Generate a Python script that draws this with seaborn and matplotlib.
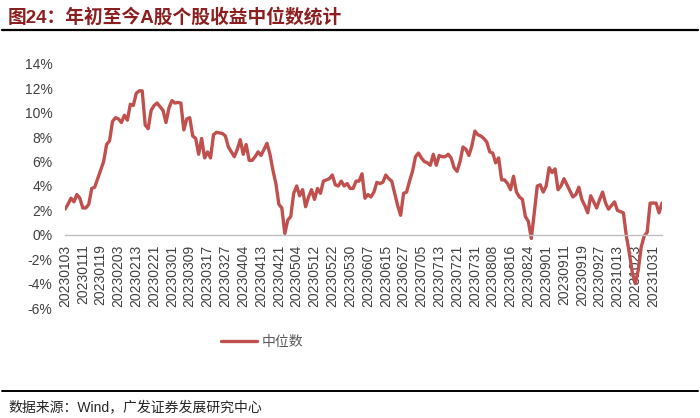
import pandas as pd
import numpy as np
import matplotlib
matplotlib.use('Agg')
import matplotlib.pyplot as plt
import seaborn as sns

# A-share trading calendar 2023 (exchange holidays on weekdays)
START = '2023-01-03'
END = '2023-11-03'
HOLIDAYS = ['2023-01-02', '2023-01-23', '2023-01-24', '2023-01-25', '2023-01-26',
            '2023-01-27', '2023-04-05', '2023-05-01', '2023-05-02', '2023-05-03',
            '2023-06-22', '2023-06-23', '2023-09-29', '2023-10-02', '2023-10-03',
            '2023-10-04', '2023-10-05', '2023-10-06']

# median YTD stock return, %
median_ret = [
    2.1, 2.5, 3.0, 2.7, 3.3, 3.0, 2.2, 2.2, 2.5, 3.8,
    3.9, 4.6, 5.3, 6.0, 7.4, 7.7, 9.3, 9.6, 9.5, 9.2,
    9.8, 9.4, 10.7, 10.6, 11.6, 11.8, 11.8, 9.0, 8.7, 10.2,
    10.6, 10.8, 10.5, 10.2, 9.2, 10.4, 11.0, 10.8, 10.85, 10.8,
    8.6, 9.5, 9.6, 8.1, 7.9, 6.6, 7.9, 6.3, 6.8, 6.3,
    8.2, 8.4, 8.35, 8.3, 8.1, 7.2, 6.8, 6.4, 7.0, 7.8,
    6.6, 7.4, 6.1, 6.1, 6.4, 6.8, 6.5, 7.0, 7.5, 6.6,
    5.3, 4.2, 2.5, 2.2, 0.1, 1.2, 1.5, 3.4, 4.0, 3.2,
    3.7, 2.3, 3.1, 3.7, 2.9, 3.8, 3.4, 4.4, 4.5, 4.6,
    4.9, 4.1, 4.0, 4.4, 4.0, 4.2, 3.8, 3.8, 4.4, 4.4,
    5.0, 3.0, 3.3, 3.1, 3.5, 4.3, 4.2, 4.3, 4.9, 4.6,
    4.4, 3.4, 2.4, 1.6, 3.4, 3.5, 4.4, 5.2, 6.4, 6.7,
    6.3, 6.0, 5.9, 5.7, 6.6, 5.7, 6.5, 6.4, 6.4, 6.6,
    6.3, 5.5, 5.2, 6.0, 7.2, 7.0, 6.5, 7.3, 8.5, 8.2,
    8.1, 7.9, 7.6, 6.8, 6.7, 5.9, 6.3, 4.5, 4.5, 4.2,
    3.7, 4.8, 3.5, 3.1, 2.9, 1.5, 1.1, -0.3, 1.8, 4.0,
    4.1, 3.5, 4.0, 5.5, 5.1, 5.4, 3.7, 4.0, 4.6, 4.1,
    3.6, 3.1, 3.3, 3.9, 2.9, 2.4, 1.8, 3.2, 2.7, 2.2,
    2.9, 3.5, 2.6, 2.1, 2.4, 2.7, 2.0, 1.9, 1.8, -0.1,
    -1.5, -3.1, -4.0, -2.9, -1.0, -0.1, 0.2, 2.6, 2.6, 2.6,
    1.8, 2.6,
]

y_ticks = [-6, -4, -2, 0, 2, 4, 6, 8, 10, 12, 14]

title = '图24：年初至今A股个股收益中位数统计'
source = '数据来源：Wind，广发证券发展研究中心'
series_name = '中位数'

dates = pd.bdate_range(START, END, freq='C', holidays=HOLIDAYS)
df = pd.DataFrame({'pos': np.arange(len(median_ret)),
                   'date': dates[:len(median_ret)].strftime('%Y%m%d'),
                   'value': median_ret})

sns.set_theme(style='white')
plt.rcParams['font.family'] = ['Liberation Sans', 'Noto Sans CJK SC', 'DejaVu Sans']

fig = plt.figure(figsize=(7.0, 4.18), dpi=100)
ax = fig.add_axes([65 / 700, 1 - 308 / 418, (662 - 65) / 700, (308 - 64) / 418])

red = '#C0504D'
sns.lineplot(data=df, x='pos', y='value', ax=ax, color=red, linewidth=2.4,
             label=series_name, legend=False)

# spines first: moving the bottom spine resets the tick objects
for s in ['top', 'right', 'left']:
    ax.spines[s].set_visible(False)
ax.spines['bottom'].set_position(('data', 0))
ax.spines['bottom'].set_color('#BFBFBF')
ax.spines['bottom'].set_linewidth(1.0)
ax.set_facecolor('none')

ax.set_xlim(0, len(median_ret) - 1)
ax.set_ylim(-6, 14)
ax.set_yticks(y_ticks)
ax.set_yticklabels([f'{t}%' for t in y_ticks])
ax.set_xticks(df['pos'][::6])
ax.set_xticklabels(df['date'][::6])
ax.tick_params(axis='both', length=0, labelsize=10, labelcolor='#404040')
ax.tick_params(axis='y', pad=9)
ax.tick_params(axis='x', pad=7, labelrotation=90)
ax.set_xlabel('')
ax.set_ylabel('')

# legend
leg = fig.legend(handles=ax.get_lines()[:1], labels=[series_name],
                 loc='center', bbox_to_anchor=(262 / 700, 1 - 342 / 418),
                 frameon=False, handlelength=2.6, handletextpad=0.3,
                 prop={'family': 'Noto Sans CJK SC', 'size': 10})
for t in leg.get_texts():
    t.set_color('#595959')

# title and source
fig.text(8 / 700, 1 - 17 / 418, title, fontsize=13.5, fontweight='bold',
         color='#8B1E1E', va='center', ha='left')
fig.add_artist(plt.Line2D([2 / 700, 698 / 700], [1 - 30 / 418, 1 - 30 / 418],
                          color='black', linewidth=1.6))
fig.add_artist(plt.Line2D([2 / 700, 698 / 700], [1 - 391 / 418, 1 - 391 / 418],
                          color='black', linewidth=1.4))
fig.text(8 / 700, 1 - 407 / 418, source, fontsize=10, color='#262626',
         va='center', ha='left')

fig.savefig('out.png', dpi=100)
plt.close(fig)
